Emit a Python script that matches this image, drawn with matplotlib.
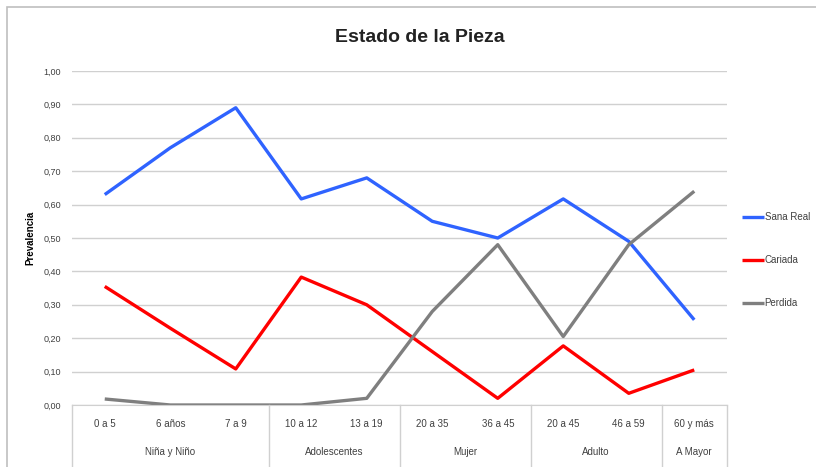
import numpy as np
import matplotlib
matplotlib.use('Agg')
from matplotlib import pyplot as plt
from matplotlib import transforms
from matplotlib.patches import Rectangle

plt.rcParams['font.family'] = ['Liberation Sans Narrow', 'Liberation Sans', 'DejaVu Sans']

# data
categorias = ['0 a 5', '6 años', '7 a 9', '10 a 12', '13 a 19',
              '20 a 35', '36 a 45', '20 a 45', '46 a 59', '60 y más']
grupos = ['Niña y Niño', 'Adolescentes', 'Mujer', 'Adulto', 'A Mayor']
grupo_tam = [3, 2, 2, 2, 1]

sana_real = [0.63, 0.77, 0.89, 0.617, 0.68, 0.55, 0.50, 0.617, 0.49, 0.255]
cariada = [0.355, 0.23, 0.108, 0.383, 0.30, 0.16, 0.02, 0.177, 0.035, 0.105]
perdida = [0.018, 0.0, 0.0, 0.0, 0.02, 0.28, 0.48, 0.205, 0.48, 0.64]

f = plt.figure(figsize=(8.16, 4.67), dpi=100)
# chart frame
f.patches.append(Rectangle((7/816, -0.1), 1.0, 1 - 7/467 + 0.1, transform=f.transFigure,
                           fill=False, edgecolor='#bfbfbf', linewidth=1.2))
ax = f.add_axes([72/816, 1 - 405/467, 655/816, 334/467])

x = np.arange(len(categorias))
ax.plot(x, sana_real, color='#2f63ff', lw=2.4, label='Sana Real', solid_capstyle='butt')
ax.plot(x, cariada, color='#ff0000', lw=2.4, label='Cariada', solid_capstyle='butt')
ax.plot(x, perdida, color='#7f7f7f', lw=2.4, label='Perdida', solid_capstyle='butt')

ax.set_xlim(-0.5, len(categorias) - 0.5)
ax.set_ylim(0, 1.0)
yt = np.arange(0, 1.01, 0.1)
ax.set_yticks(yt)
ax.set_yticklabels([('%.2f' % v).replace('.', ',') for v in yt], fontsize=6.5, color='#404040')
ax.yaxis.grid(True, color='#d0d0d0', lw=1)
ax.set_axisbelow(True)
ax.tick_params(axis='y', length=0, pad=8)
ax.tick_params(axis='x', length=0, pad=10)
ax.set_xticks(x)
ax.set_xticklabels(categorias, fontsize=7, color='#404040')
for s in ['top', 'right', 'left']:
    ax.spines[s].set_visible(False)
ax.spines['bottom'].set_color('#d0d0d0')

# group axis
tr = transforms.blended_transform_factory(ax.transData, ax.transAxes)
bordes = np.concatenate([[0], np.cumsum(grupo_tam)]) - 0.5
for b in bordes:
    ax.plot([b, b], [0, -0.2], transform=tr, color='#d0d0d0', lw=1, clip_on=False)
for g, a, b in zip(grupos, bordes[:-1], bordes[1:]):
    ax.text((a + b) / 2, -0.14, g, transform=tr, ha='center', va='center',
            fontsize=7, color='#404040')

ax.set_ylabel('Prevalencia', fontsize=7, fontweight='bold', labelpad=6)
f.text(420/816, 1 - 38/467, 'Estado de la Pieza', ha='center', va='center',
       fontsize=14, fontweight='bold', color='#222222')

ax.legend(loc='center left', bbox_to_anchor=(1.01, 0.434), frameon=False,
          fontsize=7, handlelength=2.2, handletextpad=0.1, labelspacing=3.4,
          labelcolor='#404040')

f.savefig('out.png', dpi=100)
